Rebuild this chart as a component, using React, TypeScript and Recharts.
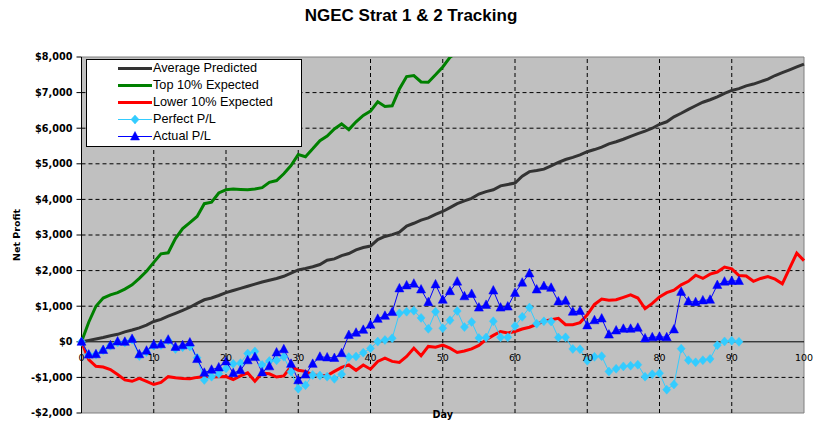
import { LineChart, Line, XAxis, YAxis, CartesianGrid, ReferenceLine, ReferenceArea, Legend } from "recharts";

// day index 0..100
const DAYS = [
  0, 1, 2, 3, 4, 5, 6, 7, 8, 9, 10, 11, 12, 13, 14, 15, 16, 17, 18, 19, 20, 21, 22, 23, 24, 25, 26, 27, 28, 29,
  30, 31, 32, 33, 34, 35, 36, 37, 38, 39, 40, 41, 42, 43, 44, 45, 46, 47, 48, 49, 50, 51, 52, 53, 54, 55, 56, 57,
  58, 59, 60, 61, 62, 63, 64, 65, 66, 67, 68, 69, 70, 71, 72, 73, 74, 75, 76, 77, 78, 79, 80, 81, 82, 83, 84, 85,
  86, 87, 88, 89, 90, 91, 92, 93, 94, 95, 96, 97, 98, 99, 100,
];

const AVERAGE_PREDICTED = [
  0, 40, 80, 120, 170, 210, 280, 330, 390, 470,
  570, 630, 720, 800, 880, 970, 1080, 1180, 1230, 1300,
  1380, 1440, 1500, 1560, 1620, 1680, 1730, 1780, 1840, 1930,
  2020, 2060, 2110, 2170, 2290, 2330, 2420, 2480, 2580, 2650,
  2690, 2870, 2960, 3010, 3080, 3250, 3330, 3420, 3480, 3580,
  3660, 3770, 3880, 3960, 4030, 4150, 4220, 4270, 4380, 4420,
  4460, 4650, 4780, 4810, 4850, 4940, 5040, 5120, 5180, 5250,
  5340, 5400, 5470, 5560, 5620, 5690, 5770, 5850, 5920, 6000,
  6110, 6180, 6320, 6420, 6530, 6630, 6730, 6800, 6880, 6980,
  7060, 7110, 7190, 7240, 7310, 7380, 7480, 7560, 7640, 7720, 7800,
];

// runs off the top of the chart after day 51
const TOP_10_EXPECTED = [
  0, 550, 1000, 1230, 1320, 1380, 1480, 1600, 1780, 1980,
  2230, 2470, 2500, 2900, 3180, 3350, 3520, 3880, 3920, 4180,
  4270, 4290, 4280, 4270, 4290, 4330, 4480, 4530, 4720, 4950,
  5260, 5200, 5420, 5650, 5780, 5980, 6120, 5960, 6180, 6360,
  6480, 6740, 6610, 6630, 7100, 7450, 7480, 7300, 7290, 7500,
  7720, 7990, 8140, 8350,
];

const LOWER_10_EXPECTED = [
  0, -500, -690, -710, -780, -920, -1070, -1110, -1030, -1110,
  -1200, -1140, -980, -1010, -1030, -1040, -1000, -975, -990, -985,
  -975, -1060, -960, -870, -1110, -880, -900, -990, -960, -690,
  -800, -830, -930, -946, -946, -830, -720, -650, -800, -650,
  -770, -550, -460, -550, -580, -410, -180, -390, -130, -150,
  -90, -180, -300, -260, -200, -100, 60, 180, 290, 250,
  290, 360, 410, 490, 580, 620, 660, 480, 480, 540,
  760, 1050, 1200, 1170, 1180, 1250, 1320, 1230, 930, 1080,
  1260, 1380, 1450, 1600, 1700, 1870, 1780, 1900, 1960, 2100,
  2050, 1860, 1850, 1700, 1780, 1830, 1760, 1630, 2060, 2490, 2280,
];

const PERFECT_PL = [
  0, -360, -360, -240, -110, -20, -20, 60, -400, -290,
  -110, -90, 40, -200, -150, -130, -450, -1070, -980, -900,
  -750, -620, -600, -330, -270, -650, -540, -520, -420, -840,
  -1320, -1220, -930, -950, -980, -1040, -910, -430, -415, -305,
  -185, 5, 50, 100, 800, 845, 874, 672, 365, 845,
  384, 605, 864, 413, 557, 106, 120, 576, 125, 125,
  442, 701, 960, 509, 576, 570, 120, 125, -200, -210,
  -535, -422, -403, -835, -758, -691, -672, -643, -979, -912,
  -883, -1344, -1200, -192, -518, -576, -518, -480, -96, 10,
  29, 0,
];

const ACTUAL_PL = [
  0, -360, -350, -230, -100, 10, 0, 80, -350, -250,
  -80, -70, 60, -145, -100, -20, -485, -870, -785, -720,
  -550, -880, -800, -520, -430, -860, -690, -300, -210, -620,
  -1080, -920, -620, -420, -440, -455, -320, 190, 255, 336,
  480, 645, 730, 835, 1500, 1584, 1632, 1469, 1114, 1613,
  1181, 1421, 1690, 1277, 1344, 960, 1037, 1440, 960, 989,
  1373, 1661, 1920, 1469, 1565, 1517, 1133, 1152, 845, 864,
  461, 605, 653, 202, 317, 365, 365, 394, 96, 125,
  144, 125, 346, 1402, 1133, 1114, 1162, 1181, 1594, 1690,
  1709, 1709,
];

const X_TICKS = [0, 10, 20, 30, 40, 50, 60, 70, 80, 90, 100];
const X_GRID = [10, 20, 30, 40, 50, 60, 70, 80, 90];
const Y_TICKS = [-2000, -1000, 0, 1000, 2000, 3000, 4000, 5000, 6000, 7000, 8000];
const Y_GRID = [-1000, 1000, 2000, 3000, 4000, 5000, 6000, 7000];
const Y_MIN = -2000;
const Y_MAX = 8000;

const W = 819;
const H = 436;
const MARGIN = { top: 57, right: 15, bottom: 22, left: 0 };
const AXIS_FONT = "'DejaVu Sans', Verdana, sans-serif";
const ARIAL = "'Liberation Sans', Arial, sans-serif";

const data = DAYS.map((d, i) => ({
  day: d,
  avg: AVERAGE_PREDICTED[i],
  top: TOP_10_EXPECTED[i],
  low: LOWER_10_EXPECTED[i],
  perfect: PERFECT_PL[i],
  actual: ACTUAL_PL[i],
}));

const money = (v: number) => (v < 0 ? "-$" : "$") + Math.abs(v).toLocaleString("en-US");

// Excel puts the category labels under the $0 line, not at the bottom
function DayTick(props: any) {
  const { x, y, payload } = props;
  const plotH = H - MARGIN.top - MARGIN.bottom - 1;
  const zeroUp = (plotH * (0 - Y_MIN)) / (Y_MAX - Y_MIN);
  return (
    <text x={x} y={y - zeroUp + 19} textAnchor="middle" fontFamily={AXIS_FONT} fontSize={9.5} fill="#000">
      {payload.value}
    </text>
  );
}

function Diamond({ cx, cy }: any) {
  if (cx == null || cy == null) return null;
  return (
    <polygon
      points={`${cx},${cy - 4.5} ${cx + 4},${cy} ${cx},${cy + 4.5} ${cx - 4},${cy}`}
      fill="#33CCFF"
      stroke="#33CCFF"
      strokeWidth={0.5}
    />
  );
}

function Triangle({ cx, cy }: any) {
  if (cx == null || cy == null) return null;
  return (
    <polygon
      points={`${cx},${cy - 5} ${cx + 4.5},${cy + 3.5} ${cx - 4.5},${cy + 3.5}`}
      fill="#0000FF"
      stroke="#0000FF"
      strokeWidth={0.5}
    />
  );
}

const LEGEND_ROWS = [
  { name: "Average Predicted", color: "#333333", width: 3, marker: "" },
  { name: "Top 10% Expected", color: "#008000", width: 3, marker: "" },
  { name: "Lower 10% Expected", color: "#FF0000", width: 3, marker: "" },
  { name: "Perfect P/L", color: "#33CCFF", width: 1, marker: "diamond" },
  { name: "Actual P/L", color: "#0000FF", width: 1, marker: "triangle" },
];

function LegendBox() {
  return (
    <div
      style={{
        width: 216,
        height: 88,
        boxSizing: "border-box",
        border: "1px solid #000",
        background: "#fff",
      }}
    >
      {LEGEND_ROWS.map((r) => (
        <div key={r.name} style={{ display: "flex", alignItems: "center", height: 17 }}>
          <svg width={66} height={17} style={{ display: "block" }}>
            <line x1={31} x2={65} y1={8.5} y2={8.5} stroke={r.color} strokeWidth={r.width} />
            {r.marker === "diamond" && <Diamond cx={48} cy={8.5} />}
            {r.marker === "triangle" && <Triangle cx={48} cy={8.5} />}
          </svg>
          <span style={{ fontFamily: ARIAL, fontSize: 12.7, color: "#000", lineHeight: "17px", whiteSpace: "nowrap" }}>
            {r.name}
          </span>
        </div>
      ))}
    </div>
  );
}

export default function App() {
  return (
    <div style={{ position: "absolute", left: 0, top: 0, width: W, height: H, background: "#fff" }}>
      <LineChart width={W} height={H} data={data} margin={MARGIN}>
        <CartesianGrid fill="#C0C0C0" fillOpacity={1} horizontal={false} vertical={false} />
        {X_GRID.map((v) => (
          <ReferenceLine key={`vx-${v}`} x={v} stroke="#000" strokeDasharray="4 3" />
        ))}
        {Y_GRID.map((v) => (
          <ReferenceLine key={`hy-${v}`} y={v} stroke="#000" strokeDasharray="4 3" />
        ))}
        <XAxis
          dataKey="day"
          type="number"
          domain={[0, 100]}
          ticks={X_TICKS}
          height={1}
          axisLine={false}
          tickLine={false}
          tickSize={0}
          tickMargin={0}
          tick={(p: any) => <DayTick {...p} />}
          interval={0}
          label={{
            content: (p: any) => (
              <text
                x={p.viewBox.x + p.viewBox.width / 2}
                y={p.viewBox.y + 5}
                textAnchor="middle"
                fontFamily={AXIS_FONT}
                fontSize={9.7}
                fontWeight="bold"
                fill="#000"
              >
                Day
              </text>
            ),
          }}
        />
        <YAxis
          width={81.5}
          domain={[Y_MIN, Y_MAX]}
          ticks={Y_TICKS}
          interval={0}
          tickFormatter={money}
          axisLine={{ stroke: "#000" }}
          tickLine={{ stroke: "#000" }}
          tickSize={5}
          tickMargin={4}
          tick={{ fontFamily: AXIS_FONT, fontSize: 9.7, fontWeight: "bold", fill: "#000" }}
          label={{
            content: (p: any) => {
              const cx = p.viewBox.x + 19.5;
              const cy = p.viewBox.y + p.viewBox.height / 2;
              return (
                <text
                  x={cx}
                  y={cy}
                  transform={`rotate(-90, ${cx}, ${cy})`}
                  textAnchor="middle"
                  fontFamily={AXIS_FONT}
                  fontSize={9.5}
                  fontWeight="bold"
                  fill="#000"
                >
                  Net Profit
                </text>
              );
            },
          }}
        />
        <YAxis yAxisId="clip" hide domain={[Y_MIN, Y_MAX]} allowDataOverflow />
        <ReferenceArea x1={0} x2={100} y1={Y_MIN} y2={Y_MAX} fill="none" stroke="#808080" strokeWidth={1} />
        <ReferenceLine y={0} stroke="#000" strokeWidth={1} />
        <Legend
          layout="vertical"
          align="center"
          verticalAlign="middle"
          wrapperStyle={{ left: 86, top: 59, width: 216, height: 88 }}
          content={() => <LegendBox />}
        />
        <Line
          dataKey="avg"
          name="Average Predicted"
          type="linear"
          stroke="#333333"
          strokeWidth={3}
          dot={false}
          isAnimationActive={false}
        />
        <Line
          dataKey="top"
          yAxisId="clip"
          name="Top 10% Expected"
          type="linear"
          stroke="#008000"
          strokeWidth={3}
          dot={false}
          isAnimationActive={false}
        />
        <Line
          dataKey="low"
          name="Lower 10% Expected"
          type="linear"
          stroke="#FF0000"
          strokeWidth={3}
          dot={false}
          isAnimationActive={false}
        />
        <Line
          dataKey="perfect"
          name="Perfect P/L"
          type="linear"
          stroke="#33CCFF"
          strokeWidth={1}
          dot={(p: any) => <Diamond key={`pd-${p.index}`} cx={p.cx} cy={p.cy} />}
          activeDot={false}
          isAnimationActive={false}
        />
        <Line
          dataKey="actual"
          name="Actual P/L"
          type="linear"
          stroke="#0000FF"
          strokeWidth={1}
          dot={(p: any) => <Triangle key={`ad-${p.index}`} cx={p.cx} cy={p.cy} />}
          activeDot={false}
          isAnimationActive={false}
        />
      </LineChart>
      <svg width={W} height={40} style={{ position: "absolute", left: 0, top: 0, pointerEvents: "none" }}>
        <text x={411} y={21} textAnchor="middle" fontFamily={ARIAL} fontSize={17} fontWeight="bold" fill="#000">
          NGEC Strat 1 &amp; 2 Tracking
        </text>
      </svg>
    </div>
  );
}
